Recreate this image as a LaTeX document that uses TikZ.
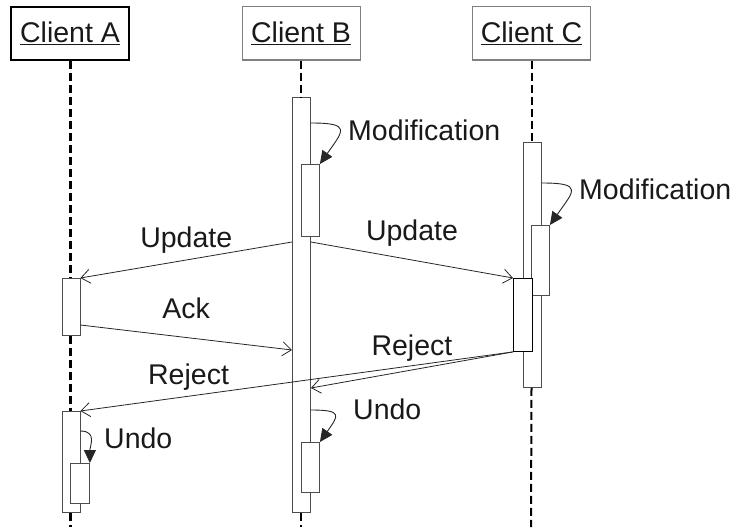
\documentclass[tikz,border=0pt]{standalone}
\usepackage{fontspec}
\setmainfont{Liberation Sans}
\usetikzlibrary{arrows.meta}

\tikzset{
  client/.style={draw=gray, line width=1pt, fill=white, minimum width=118pt, minimum height=53pt,
    inner sep=0pt, font=\fontsize{28.5}{34}\selectfont, text=black!90},
  bar/.style={draw=black!70, line width=0.9pt, fill=white, minimum width=18pt, inner sep=0pt, anchor=north west},
  lifeline/.style={line width=2pt, dash pattern=on 8pt off 4pt},
  msg/.style={line width=0.8pt, black!85, -{Straight Barb[length=9pt,width=14pt]}},
  self/.style={line width=0.9pt, black!85, -{Triangle[length=13pt,width=12pt]}},
  txt/.style={font=\fontsize{28.5}{34}\selectfont, text=black!90, inner sep=0pt},
}

\begin{document}
\begin{tikzpicture}[x=1pt,y=-1pt]
\useasboundingbox (0,0) rectangle (730,527);

% clients
\node[client, draw=black, line width=2pt] (aBox) at (70,33.5) {\underline{Client A}};
\node[client] (bBox) at (301,33.5) {\underline{Client B}};
\node[client] (cBox) at (531.5,33.5) {\underline{Client C}};

\coordinate (aEnd) at (70,527);
\coordinate (bEnd) at (301,527);
\coordinate (cEnd) at (531,527);

%---------------------------------
% activation bars
\node[bar, minimum height=415pt] (bBar) at (292,97) {};
\node[bar, minimum height=72pt] (bMod) at (301,164) {};
\node[bar, minimum height=50pt] (bUndo) at (301,442) {};

\node[bar, minimum height=245pt] (cBar) at (523,142) {};
\node[bar, minimum height=70pt] (cMod) at (531,225) {};
\node[bar, draw=black, minimum width=19pt, minimum height=73pt] (cRecv) at (513,278) {};

\node[bar, minimum height=57pt] (aRecv) at (61.5,278) {};
\node[bar, minimum height=101pt] (aBar) at (61.5,411) {};
\node[bar, minimum width=19pt, minimum height=40pt] (aUndo) at (70,463) {};

%---------------------------------
% lifelines
\draw[lifeline, line width=3pt] (aBox.south) -- (aBox.south |- aRecv.north);
\draw[lifeline, line width=3pt] (aBox.south |- aRecv.south) -- (aBox.south |- aBar.north);
\draw[lifeline, line width=3pt] (aBox.south |- aBar.south) -- (aEnd);
\draw[lifeline] (bBox.south) -- (bBox.south |- bBar.north);
\draw[lifeline] (bBox.south |- bBar.south) -- (bEnd);
\draw[lifeline] (cBox.south) -- (cBox.south |- cBar.north);
\draw[lifeline] (cBox.south |- cBar.south) -- (cEnd);

%---------------------------------
% self calls
\draw[self] (bBar.east |- 0,123) to[out=0, in=55, looseness=2.5] (bMod.north east);
\draw[self] (cBar.east |- 0,183) to[out=0, in=55, looseness=2.5] (cMod.north east);
\draw[self] (bBar.east |- 0,410) to[out=0, in=55, looseness=2.5] (bUndo.north east);
\draw[self] (aRecv.east |- 0,431) to[out=0, in=90, looseness=1.3] (aUndo.north east);

\node[txt, anchor=base west] (bModLbl) at (348,140) {Modification};
\node[txt, anchor=base west] (cModLbl) at (579,199) {Modification};
\node[txt, anchor=base west] (bUndoLbl) at (353,419) {Undo};
\node[txt, anchor=base west] (aUndoLbl) at (104,448) {Undo};

%---------------------------------
% messages
\draw[msg] (bBar.west |- 0,242) -- (aRecv.north east)
  node[txt, midway, anchor=base, yshift=13pt] (updA) {Update};
\draw[msg] (bBar.east |- 0,242) -- (cRecv.north west)
  node[txt, midway, anchor=base, yshift=20pt] (updC) {Update};
\draw[msg] (aRecv.east |- 0,325) -- (bBar.west |- 0,350)
  node[txt, midway, anchor=base, yshift=19pt] (ack) {Ack};
\draw[msg] (cRecv.south west) -- (bBar.east |- 0,388)
  node[txt, midway, anchor=base, yshift=14pt] (rejB) {Reject};
\draw[msg] (cRecv.south west) -- (aBar.north east)
  node[txt, pos=0.75, anchor=base, yshift=12pt] (rejA) {Reject};
\end{tikzpicture}
\end{document}
